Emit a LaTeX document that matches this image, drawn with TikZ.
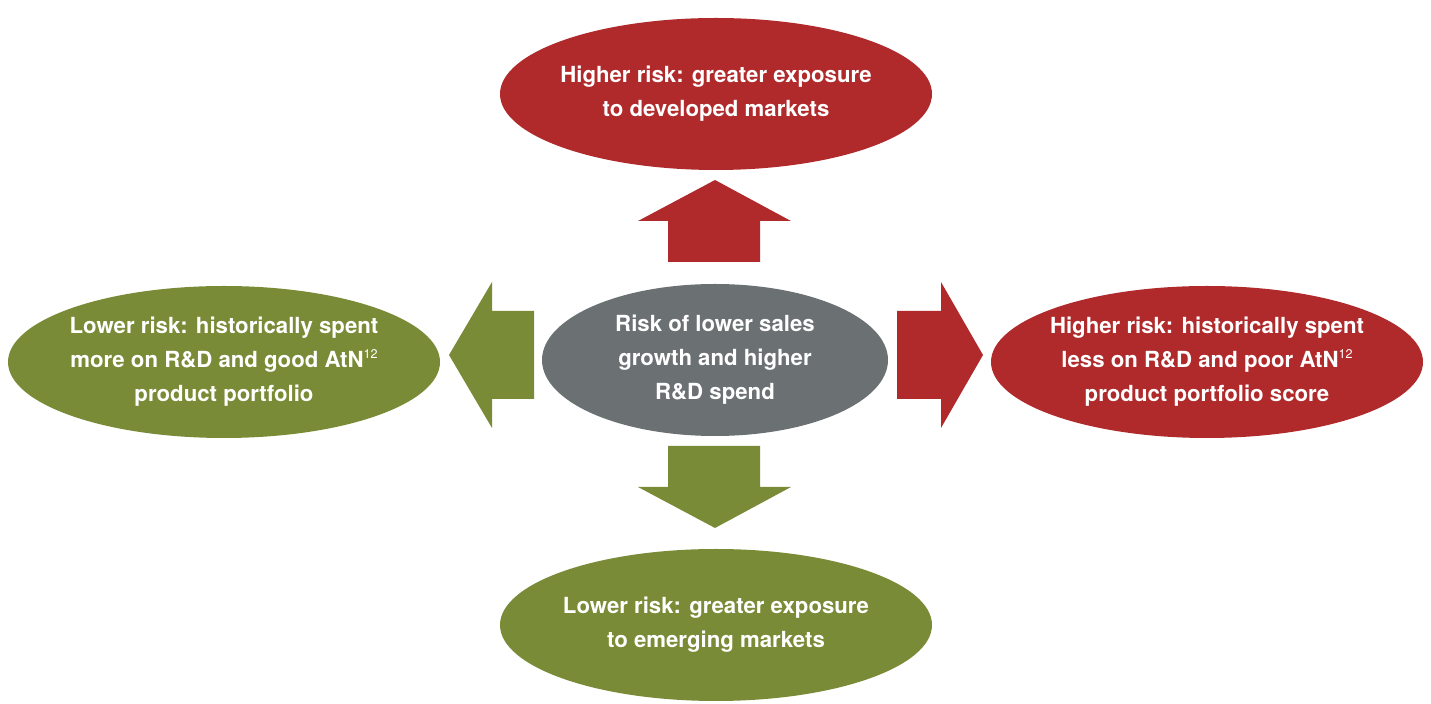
\documentclass[tikz,border=0pt]{standalone}
\usepackage{fontspec}
\setmainfont{TeX Gyre Heros}
\usetikzlibrary{shapes.geometric}

\definecolor{riskred}{HTML}{B02A2C}
\definecolor{riskgreen}{HTML}{7A8B37}
\definecolor{riskgray}{HTML}{6B7073}

\newcommand{\notemark}[1]{\raisebox{0.75ex}{\fontsize{6.3pt}{6.3pt}\selectfont\mdseries #1}}

\begin{document}
\begin{tikzpicture}[x=0.5pt,y=-0.5pt]

        \useasboundingbox (0,0) rectangle (1431,704);

        \begin{scope}[every node/.style={ellipse,inner xsep=-3pt,inner ysep=0pt,text=white,align=center,
            font=\fontsize{11.1pt}{17pt}\selectfont\bfseries,
            minimum width=216pt,minimum height=76pt}]
          \node[fill=riskred]   (high1) at (716,94)  {Higher risk: greater exposure\\to developed markets};
          \node[fill=riskgreen] (low1)  at (224,362) {Lower risk: historically spent\\more on R\&D and good AtN\notemark{12}\\product portfolio};
          \node[fill=riskgray,minimum width=173pt] (core) at (715,360) {Risk of lower sales\\growth and higher\\R\&D spend};
          \node[fill=riskred]   (high2) at (1207,362) {Higher risk: historically spent\\less on R\&D and poor AtN\notemark{12}\\product portfolio score};
          \node[fill=riskgreen] (low2)  at (716,625) {Lower risk: greater exposure\\to emerging markets};
        \end{scope}

        % block arrows
        \fill[riskred]   (668,262) -- (668,221) -- (638,221) -- (715,180) -- (791,221) -- (760,221) -- (760,262) -- cycle;
        \fill[riskgreen] (668,446) -- (668,487) -- (638,487) -- (715,528) -- (791,487) -- (760,487) -- (760,446) -- cycle;
        \fill[riskgreen] (534,311) -- (492,311) -- (492,282) -- (449,355) -- (492,428) -- (492,399) -- (534,399) -- cycle;
        \fill[riskred]   (897,311) -- (941,311) -- (941,282) -- (983,355) -- (941,428) -- (941,399) -- (897,399) -- cycle;

      \end{tikzpicture}
\end{document}
